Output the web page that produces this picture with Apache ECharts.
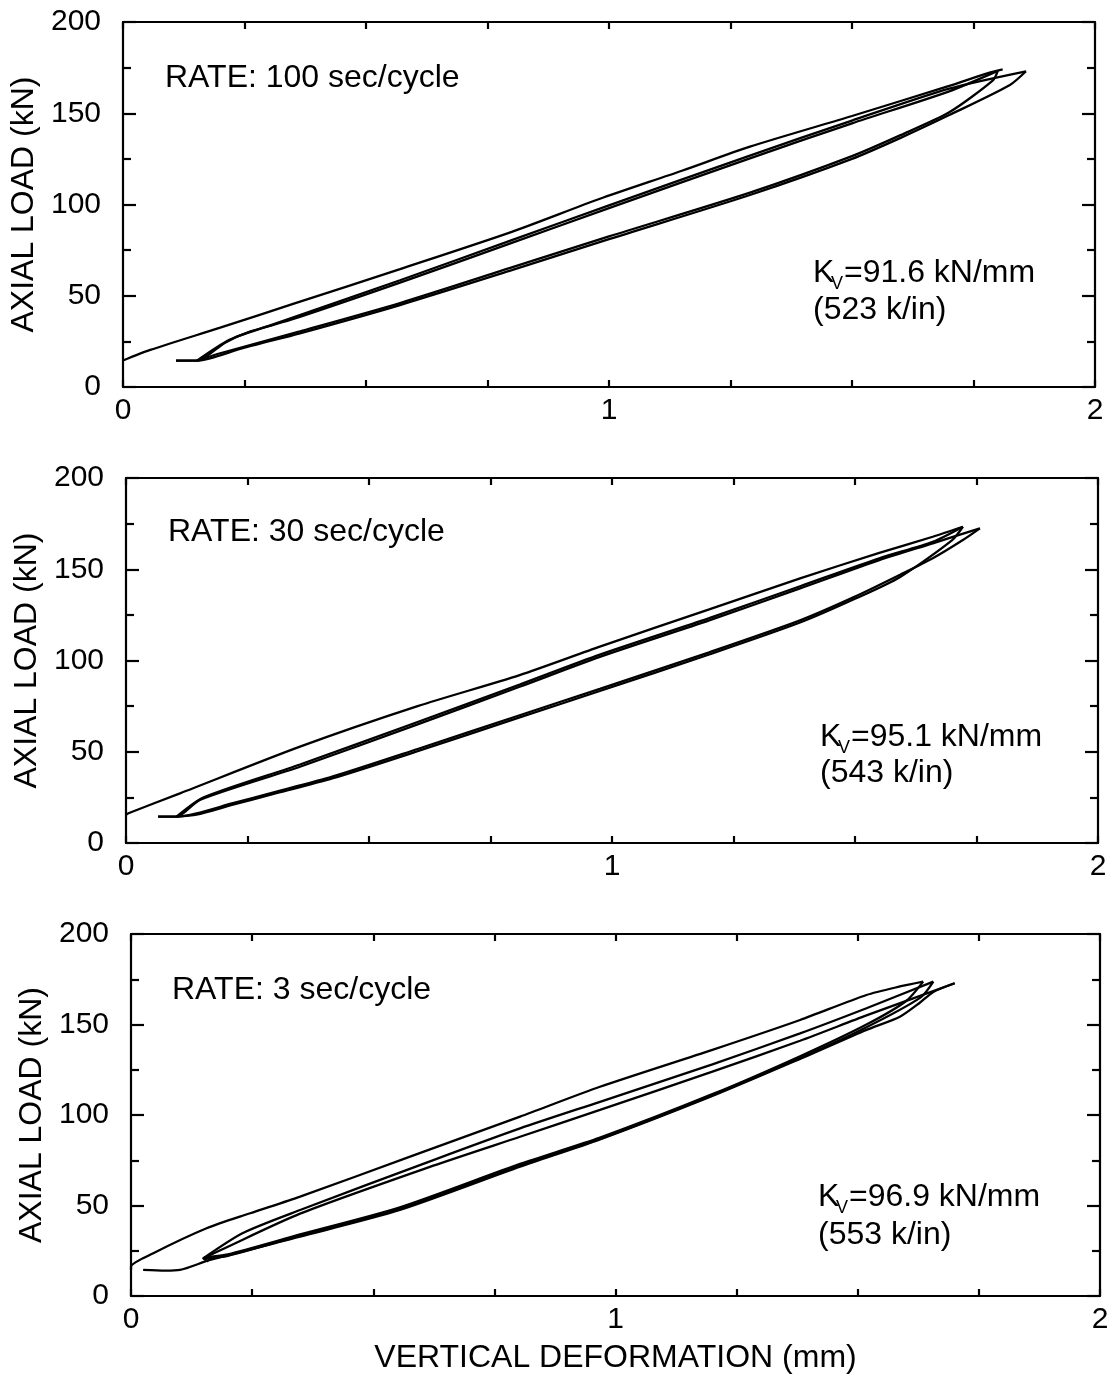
<!DOCTYPE html>
<html><head><meta charset="utf-8">
<script src="https://cdn.jsdelivr.net/npm/echarts@6/dist/echarts.min.js"></script>
<style>html,body{margin:0;padding:0;background:#fff}#c{width:1113px;height:1378px}</style>
</head><body><div id="c"></div>
<script>
// ---------- tick labels / text ----------
const xTickLabels = {0: '0', 1: '1', 2: '2'};
const rateLabels = ['RATE: 100 sec/cycle', 'RATE: 30 sec/cycle', 'RATE: 3 sec/cycle'];
const kvLabels = ['=91.6 kN/mm', '=95.1 kN/mm', '=96.9 kN/mm'];
const kipLabels = ['(523 k/in)', '(543 k/in)', '(553 k/in)'];
const yAxisTitle = 'AXIAL LOAD (kN)';
const xAxisTitle = 'VERTICAL DEFORMATION (mm)';

// ---------- Panel 1 : 100 sec/cycle  [deformation mm, load kN] ----------
const p1Up1 = [[0,14.5],[0.056,20.3],[0.2,32.5],[0.35,45.5],[0.57,64.6],[0.8,85],[0.98,103],[1.15,118.5],[1.29,131.7],[1.5,148.5],[1.7,165],[1.78,172],[1.81,174]];
const p1Up2 = [[0.109,14.4],[0.152,14.4],[0.21,24.3],[0.261,30.3],[0.344,36.7],[0.57,57.2],[0.8,79],[1.0,98],[1.29,125.3],[1.5,144.5],[1.7,162],[1.80,173.2]];
const p1Up3 = [[0.152,14.4],[0.22,26],[0.30,33.5],[0.57,58.5],[0.8,80.5],[1.0,99.5],[1.29,126.8],[1.5,146],[1.7,163.5],[1.858,173]];
const p1Down1 = [[1.858,173],[1.825,165.5],[1.70,149],[1.6,136.5],[1.5,125],[1.29,105.2],[1.0,81],[0.8,64],[0.57,44.9],[0.364,29.4],[0.25,21.5],[0.179,15.7],[0.152,14.4],[0.109,14.4]];
const p1Down2 = [[1.80,173.2],[1.79,168],[1.70,150.5],[1.6,138],[1.5,126.5],[1.29,106.5],[1.0,82.5],[0.8,65.5],[0.57,46],[0.364,30.5],[0.2,18.5],[0.152,14.4]];

// ---------- Panel 2 : 30 sec/cycle ----------
const p2Up1 = [[0,15.5],[0.005,16.3],[0.111,27.2],[0.358,52.8],[0.6,75],[0.81,92],[0.975,107.6],[1.2,128],[1.387,145],[1.55,159],[1.66,167.8],[1.722,173.3]];
const p2Up2 = [[0.066,14.4],[0.104,14.4],[0.152,23.6],[0.358,41.8],[0.6,65],[0.81,85.6],[0.975,102],[1.2,122],[1.387,139.5],[1.55,155],[1.66,164.2],[1.757,172.4]];
const p2Up3 = [[0.104,14.4],[0.16,25],[0.358,43],[0.6,66.3],[0.81,86.8],[0.975,103.2],[1.2,123.2],[1.387,140.7],[1.55,156],[1.66,165],[1.722,173.3]];
const p2Down1 = [[1.757,172.4],[1.722,166],[1.66,156],[1.593,147],[1.5,135],[1.387,122],[1.2,104.5],[0.975,84.5],[0.81,70],[0.6,51.5],[0.426,36.5],[0.3,27.5],[0.22,21.8],[0.145,16.2],[0.104,14.4],[0.066,14.4]];
const p2Down2 = [[1.722,173.3],[1.70,166],[1.593,145.8],[1.5,133.8],[1.387,120.8],[1.2,103.3],[0.975,83.3],[0.81,68.8],[0.6,50.3],[0.426,35.5],[0.3,26.6],[0.22,21],[0.145,15.5],[0.104,14.4]];

// ---------- Panel 3 : 3 sec/cycle ----------
const p3Up1 = [[0,14.5],[0,16.2],[0.046,23.6],[0.156,37.4],[0.246,45.7],[0.349,54.9],[0.576,77],[0.803,99.1],[0.968,115.6],[1.2,136],[1.381,152.5],[1.518,166.3],[1.587,171],[1.635,173.7]];
const p3Low1 = [[0.025,14.4],[0.07,14],[0.101,14.4],[0.163,19.9],[0.349,32.8],[0.555,47.5],[0.803,71.4],[0.968,86.5],[1.2,110.5],[1.381,131],[1.518,147],[1.587,154.3],[1.628,162],[1.656,168],[1.70,172.8]];
const p3Mid1 = [[0.149,20.8],[0.231,34.8],[0.349,47.5],[0.624,75.1],[0.803,92.6],[0.968,107.3],[1.2,128],[1.381,145.1],[1.518,159],[1.656,173.7]];
const p3Mid2 = [[0.149,20.8],[0.19,26],[0.349,45.5],[0.624,72],[0.803,88],[0.968,102.8],[1.2,124],[1.381,141],[1.518,155],[1.70,172.8]];
const p3Low2 = [[1.635,173.7],[1.60,163],[1.518,150],[1.381,132.5],[1.2,111.5],[0.968,87.5],[0.803,73],[0.555,49],[0.349,34],[0.2,23],[0.149,20.8],[0.16,19]];
const p3Low3 = [[1.656,173.7],[1.63,165],[1.518,148.5],[1.381,131.5],[1.2,111],[0.968,86.8],[0.803,72.2],[0.555,48.2],[0.349,33.4],[0.2,22.2],[0.149,20.8]];

const panelSeries = [
  [p1Up1, p1Up2, p1Up3, p1Down1, p1Down2],
  [p2Up1, p2Up2, p2Up3, p2Down1, p2Down2],
  [p3Up1, p3Low1, p3Mid1, p3Mid2, p3Low2, p3Low3]
];

// ---------- layout ----------
const FONT = '"Liberation Sans", Arial, Helvetica, sans-serif';
const grids = [
  {left: 123, top: 22, width: 972, height: 365},
  {left: 126, top: 478, width: 972, height: 365},
  {left: 131, top: 934, width: 969, height: 362}
];
const annPos = [
  {rx: 165, ry: 78, kx: 813, ky: 273, k2y: 310},
  {rx: 168, ry: 532, kx: 820, ky: 737, k2y: 773},
  {rx: 172, ry: 990, kx: 818, ky: 1197, k2y: 1235}
];

const black = '#000';
const lineSt = {color: black, width: 2.2};
const xAxes = [], yAxes = [], series = [], graphics = [];

grids.forEach((g, i) => {
  g.outerBoundsMode = 'none';
  g.containLabel = false;
  const xBase = {
    gridIndex: i, type: 'value', min: 0, max: 2, interval: 0.25,
    axisLine: {show: true, onZero: false, lineStyle: lineSt},
    axisTick: {show: true, inside: true, length: 7, lineStyle: lineSt},
    splitLine: {show: false}
  };
  xAxes.push(Object.assign({}, xBase, {
    position: 'bottom',
    axisLabel: {show: true, fontSize: 30, color: black, fontFamily: FONT, margin: 9,
      formatter: v => (xTickLabels[v] !== undefined ? xTickLabels[v] : '')},
    name: i === 2 ? xAxisTitle : '',
    nameLocation: 'middle', nameGap: 46,
    nameTextStyle: {fontSize: 32, color: black, fontFamily: FONT}
  }));
  xAxes.push(Object.assign({}, xBase, {position: 'top', axisLabel: {show: false}}));

  const yBase = {
    gridIndex: i, type: 'value', min: 0, max: 200, interval: 50,
    axisLine: {show: true, onZero: false, lineStyle: lineSt},
    axisTick: {show: true, inside: true, length: 13, lineStyle: lineSt},
    minorTick: {show: true, splitNumber: 2, length: 8, lineStyle: lineSt},
    splitLine: {show: false}, minorSplitLine: {show: false}
  };
  yAxes.push(Object.assign({}, yBase, {
    position: 'left',
    axisLabel: {show: true, fontSize: 30, color: black, fontFamily: FONT, margin: 22},
    name: yAxisTitle, nameLocation: 'middle', nameGap: 76, nameRotate: 90,
    nameTextStyle: {fontSize: 32, color: black, fontFamily: FONT}
  }));
  yAxes.push(Object.assign({}, yBase, {position: 'right', axisLabel: {show: false}}));

  panelSeries[i].forEach(arr => {
    series.push({
      type: 'line', xAxisIndex: 2 * i, yAxisIndex: 2 * i, data: arr,
      showSymbol: false, symbol: 'none', clip: false, smooth: 0.25,
      lineStyle: {color: black, width: 2.3}, emphasis: {disabled: true}
    });
  });

  const a = annPos[i];
  const ts = (txt, x, y, size) => ({
    type: 'text', x: x, y: y, silent: true,
    style: {text: txt, fontSize: size, fontFamily: FONT, fill: black, align: 'left', verticalAlign: 'middle'}
  });
  graphics.push(ts(rateLabels[i], a.rx, a.ry, 32));
  graphics.push(ts('K', a.kx, a.ky, 32));
  graphics.push(ts('V', a.kx + 18, a.ky + 11, 18));
  graphics.push(ts(kvLabels[i], a.kx + 31, a.ky, 32));
  graphics.push(ts(kipLabels[i], a.kx, a.k2y, 32));
});

const chart = echarts.init(document.getElementById('c'), null, {renderer: 'canvas'});
chart.setOption({
  backgroundColor: '#fff',
  animation: false,
  tooltip: {show: false},
  grid: grids,
  xAxis: xAxes,
  yAxis: yAxes,
  series: series,
  graphic: graphics
});
</script></body></html>
